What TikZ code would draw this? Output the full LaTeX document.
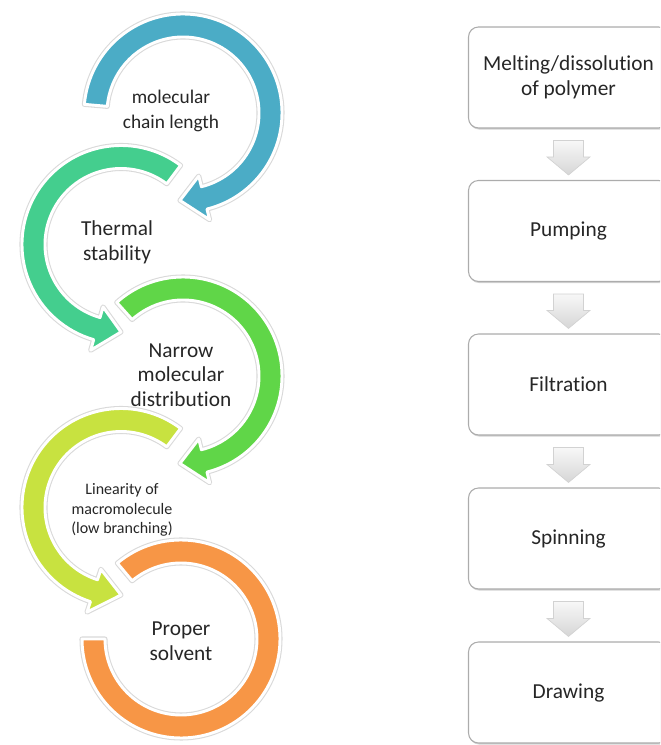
\documentclass[tikz,border=0pt]{standalone}
\usepackage{fontspec}
\setmainfont{Carlito}[Ligatures=NoCommon]
\usetikzlibrary{calc,shadows}

\definecolor{ringblue}{RGB}{75,172,198}
\definecolor{ringteal}{RGB}{68,206,142}
\definecolor{ringgreen}{RGB}{96,214,72}
\definecolor{ringlime}{RGB}{200,226,64}
\definecolor{ringorange}{RGB}{247,150,70}

\tikzset{
  ring/.style={fill=#1, draw=white, line width=2.2pt, line join=round,
    preaction={draw=black!15, line width=3.8pt, line join=round}},
  box/.style={draw=gray!65, fill=white, line width=0.8pt, rounded corners=7.5pt,
    minimum width=150pt, minimum height=75.75pt,
    drop shadow={shadow xshift=0.6pt, shadow yshift=-1.2pt, opacity=0.35},
    font=\fontsize{16}{19}\selectfont},
  flowarrow/.style={top color=gray!6, bottom color=gray!32, draw=gray!35, line width=0.5pt},
  lbl/.style={font=\fontsize{16}{18.5}\selectfont}
}

% circular arrow: centre, start, base of head, tip, colour
\newcommand{\ringarrow}[5]{%
  \path[ring=#5, shift={(#1)}] (#2:99) arc (#2:#3:99) -- (#3:110) -- (#4:87.5)
    -- (#3:65) -- (#3:76) arc (#3:#2:76) -- cycle;}

\begin{document}
\begin{tikzpicture}
            [x=0.75pt,y=0.75pt,every node/.style={align=center,text=black!85}]
            \useasboundingbox (0,0) rectangle (660,745);
            \clip (0,0) rectangle (660,745);
            \coordinate (C1) at (183,632);
            \coordinate (C2) at (121,500.5);
            \coordinate (C3) at (183,369);
            \coordinate (C4) at (121,237.5);
            \coordinate (C5) at (181,106);

            % requirements
            \path[ring=ringorange, shift={(C5)}] (130:99) arc (130:-180:99)
              -- (180:76) arc (-180:130:76) -- cycle;
            \ringarrow{C4}{53}{252}{270}{ringlime}
            \ringarrow{C3}{132}{-76}{-92}{ringgreen}
            \ringarrow{C2}{53}{254}{270}{ringteal}
            \ringarrow{C1}{175}{-76}{-92}{ringblue}

            \node[font=\fontsize{14.5}{18.5}\selectfont] (L1) at (171,634) {molecular\\chain length};
            \node[lbl] (L2) at (117,503) {Thermal\\stability};
            \node[lbl] (L3) at (181,370) {Narrow\\molecular\\distribution};
            \node[font=\fontsize{12}{14.5}\selectfont] (L4) at (122,235) {Linearity of\\macromolecule\\(low branching)};
            \node[lbl] (L5) at (181,104) {Proper\\solvent};

            % process steps
            \node[box] (S1) at (568.5,667.5) {Melting/dissolution\\of polymer};
            \node[box] (S2) at (568.5,514) {Pumping};
            \node[box] (S3) at (568.5,360.5) {Filtration};
            \node[box] (S4) at (568.5,206.5) {Spinning};
            \node[box] (S5) at (568.5,52.5) {Drawing};

            \path[flowarrow] ($(S1.south)+(-15,-12)$) -- ++(30,0) -- ($(S2.north)+(15,23)$) -- ++(6.5,0)
              -- ($(S2.north)+(0,5)$) -- ($(S2.north)+(-21.5,23)$) -- ++(6.5,0) -- cycle;
            \path[flowarrow] ($(S2.south)+(-15,-12)$) -- ++(30,0) -- ($(S3.north)+(15,23)$) -- ++(6.5,0)
              -- ($(S3.north)+(0,5)$) -- ($(S3.north)+(-21.5,23)$) -- ++(6.5,0) -- cycle;
            \path[flowarrow] ($(S3.south)+(-15,-12)$) -- ++(30,0) -- ($(S4.north)+(15,23)$) -- ++(6.5,0)
              -- ($(S4.north)+(0,5)$) -- ($(S4.north)+(-21.5,23)$) -- ++(6.5,0) -- cycle;
            \path[flowarrow] ($(S4.south)+(-15,-12)$) -- ++(30,0) -- ($(S5.north)+(15,23)$) -- ++(6.5,0)
              -- ($(S5.north)+(0,5)$) -- ($(S5.north)+(-21.5,23)$) -- ++(6.5,0) -- cycle;
        \end{tikzpicture}
\end{document}
